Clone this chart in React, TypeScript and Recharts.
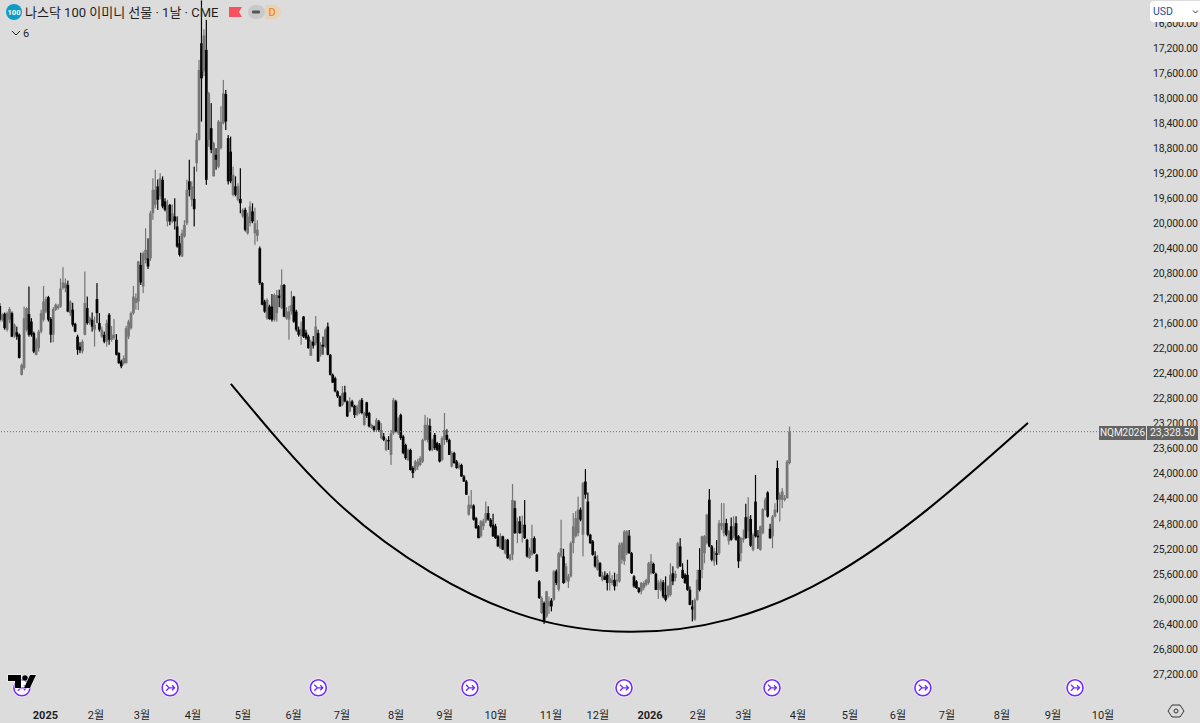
import { Bar, ComposedChart, Line, ReferenceDot, ReferenceLine, XAxis, YAxis } from "recharts";

// 나스닥 100 이미니 선물 (NQM2026), 1일봉, 가격축 반전. 봉 하나 = [open, high, low, close]

const barsEarly2025 = [
  [21320,21570,21275,21540],[21540,21570,21435,21460],[21445,21700,21425,21675],[21700,21730,21410,21436],[21540,21595,21340,21370],
  [21435,21820,21410,21810],[21780,21830,21600,21620],[21740,21860,21650,21810],[21780,22160,21760,22150],[22420,22430,22240,22260],
  [22310,22340,21330,21515],[21700,21730,21340,21355],[21450,21810,21010,21780],[21570,21810,21515,21780],[21755,22075,21730,22050],
  [22100,22110,21830,21860],[21995,22050,21700,21730],[21730,21760,21380,21435],[21540,21570,21000,21250],[21410,21435,21170,21210],
  [21180,21570,21160,21540],[21530,21905,21500,21780],[21780,21900,21340,21370],[21380,21400,21280,21300],[21355,21380,21290,21320],
  [21330,21350,20880,21040],[21035,21060,20700,20945],[21035,21100,20880,20957],[20985,21420,20915,21410],[21435,21480,21230,21250],
  [21380,21650,21270,21620],[21605,21740,21590,21730],[21810,22100,21780,22020],[21970,22075,21900,22030],[22045,22080,21860,21890],
  [21780,21790,20770,21275],[21355,21620,21170,21595],[21570,21620,21490,21515],[21540,21730,21425,21650],[21700,21970,21490,21620],
  [21210,21595,20955,21435],[21595,21730,21435,21700],[21810,21830,21650,21700],[21780,21915,21730,21890],[21890,21970,21540,21595],
  [21460,21940,21435,21860],[21860,21890,21640,21780],[21835,21860,21530,21780],[21860,22110,21770,22100],[22075,22245,22060,22235],
  [22205,22315,22180,22285],[22235,22260,22110,22155],[22235,22240,21640,21675],[21810,21850,21540,21570],[21675,21700,21410,21435],
  [21435,21460,21000,21170],[21275,21380,21120,21195],[21250,21385,20600,20610],[20665,20985,20470,20945],[21010,21115,20450,20480],
  [20585,20640,20080,20425],[20560,20730,20240,20690],[20560,20600,19800,19840],
];

const barsPeak2025 = [
  [19840,19945,19280,19465],[19705,19760,19145,19465],[19410,19785,19300,19625],[19570,19620,19200,19280],[19305,19760,19250,19730],
  [19650,19810,19600,19785],[19970,20050,19625,19705],[19705,20030,19690,19970],[19970,20000,19700,19840],[19890,20100,19600,19970],
  [20050,20390,19890,20370],[20320,20530,20200,20505],[20530,20540,20100,20160],[20210,20230,19950,20025],[20000,20030,19305,19465],
  [19330,19570,18985,19465],[19625,19730,19330,19410],[19610,20050,19095,19775],[19040,19175,18560,18665],[18665,18680,17390,17550],
  [17125,18375,16440,17685],[17575,17650,16900,17000],[17230,19385,16750,19305],[18665,18780,17900,17925],[18480,18880,18080,18825],
  [19250,19250,18700,18720],[18905,19145,18800,18985],[19095,19120,18350,18375],[18800,18820,18130,18380],[18400,18420,17710,17925],
  [17935,18510,17870,18375],[18640,19380,18590,19330],[18855,19360,18615,19330],[19545,19570,19095,19225],[19410,19570,19250,19545],
  [19625,19650,19360,19410],[19610,19840,19120,19680],[19890,19915,19760,19785],[19785,20130,19750,20105],[20160,20180,19830,19890],
  [20000,20050,19650,19730],[19810,20000,19680,19970],[20160,20345,19750,20000],[20200,20290,19950,20100],
];

const barsSummer2025 = [
  [20400,20985,20370,20955],[20955,21310,20940,21300],[21250,21430,21220,21410],[21515,21540,21200,21225],[21330,21540,21300,21530],
  [21330,21570,21130,21540],[21540,21570,21120,21145],[21435,21570,21065,21145],[21155,21340,21060,21195],[21355,21370,20735,20985],
  [20985,21500,20970,21490],[21515,21540,21340,21410],[21540,21860,21320,21410],[21410,21460,21080,21305],[21170,21590,21160,21570],
  [21410,21730,21380,21700],[21700,21810,21650,21780],[21800,21941,21570,21690],[21490,21830,21480,21810],[21745,21860,21700,21835],
  [21810,22000,21780,21995],[22115,22120,21860,21890],[21890,22000,21800,21955],[21915,21950,21480,21650],[21755,22215,21700,22205],
  [22100,22130,21900,21940],[21940,22100,21810,21970],[21970,21990,21680,21700],[21650,22110,21585,22100],[22100,22430,22090,22420],
  [22420,22550,22400,22545],[22475,22700,22450,22685],[22685,22790,22670,22765],[22765,22930,22750,22925],[22900,22920,22600,22715],
  [22700,22860,22595,22845],[22845,23095,22830,23085],[23005,23020,22780,22845],[22845,22940,22820,22925],[22915,23110,22900,23060],
  [23060,23080,22900,22925],[23030,23050,22820,22845],[22820,23050,22790,23030],[23220,23235,23010,23030],[22860,23110,22850,23075],
  [23030,23260,23010,23245],[23270,23285,23200,23220],[23245,23330,23230,23300],[23300,23330,23110,23140],[23165,23330,23140,23300],
];

const barsAutumn2025 = [
  [23430,23450,23190,23300],[23405,23480,23350,23460],[23620,23640,23430,23460],[23460,23620,23400,23485],[23700,23860,23300,23355],
  [23355,23380,22790,22820],[22845,23340,22820,23325],[23355,23380,23090,23115],[23060,23460,23040,23430],[23405,23690,23380,23670],
  [23540,23775,23520,23750],[23780,23800,23600,23620],[23620,23950,23600,23940],[23910,24070,23880,23990],[23940,23960,23780,23805],
  [23885,23940,23760,23805],[23860,23880,23720,23750],[23805,23830,23440,23460],[23460,23480,23060,23220],[23460,23500,23100,23220],
  [23235,23640,23120,23620],[23620,23640,23440,23460],[23380,23620,23350,23590],[23510,23640,23490,23620],[23540,23820,23510,23805],
  [23780,23800,23400,23430],[23460,23540,23030,23300],[23380,23500,23290,23460],[23460,23700,23440,23700],[23885,23900,23640,23670],
  [23670,23840,23650,23830],[23805,23920,23780,23910],[23910,23930,23820,23860],[23860,24050,23840,24045],[24045,24130,24020,24125],
  [24125,24340,24100,24335],[24655,24670,24350,24495],[24550,24560,24260,24495],[24510,24750,24490,24735],[24710,24880,24690,24870],
  [24840,25030,24820,25030],[25000,25020,24740,24760],[24840,24900,24720,24760],[24760,24790,24445,24630],[24630,24750,24520,24735],
  [24735,24860,24710,24840],[24815,25010,24640,25000],[24840,25040,24800,25030],[25000,25170,24980,25160],[25190,25200,24950,25000],
  [25000,25220,24990,25215],[25270,25290,25040,25055],[25055,25360,25040,25350],[25375,25390,25280,25300],[25295,25380,24165,24420],
  [24550,24960,24430,24950],[24950,25110,24700,24760],[24760,24960,24680,24950],[24950,25100,24670,24815],[24815,25040,24420,25030],
  [25055,25340,25040,25320],[25350,25360,25180,25215],[25295,25310,24815,25030],[25030,25280,25000,25270],[25295,25570,25280,25560],
  [25720,26000,25700,25985],[26225,26240,25960,25985],[26065,26400,26040,26360],[26280,26300,25870,25880],[26120,26240,25960,26040],
  [26025,26200,25990,26120],[26015,26030,25540,25560],[25560,25780,25530,25745],[25850,25880,25250,25270],[25320,25340,24735,25190],
  [25320,25760,25200,25745],[25695,25740,25430,25480],[25720,25825,25600,25640],[25640,25660,25080,25110],[25110,25270,24630,24840],
  [25000,25020,24600,24710],[24950,25000,24365,24575],[24575,24760,24540,24735],[24975,25320,24130,24150],[24125,24400,23925,24335],
  [24445,25000,24300,24975],[24975,25120,24960,25110],
];

const barsWinter2026 = [
  [25080,25310,25060,25295],[25320,25500,25240,25480],[25535,25550,25300,25375],[25430,25650,25410,25640],[25695,25720,25570,25615],
  [25640,25700,25560,25695],[25615,25865,25590,25745],[25745,25865,25560,25667],[25745,25780,25620,25695],[25695,25865,25580,25800],
  [25720,25800,25600,25695],[25720,25740,25100,25135],[25375,25440,25090,25110],[25400,25460,24900,24925],[25270,25300,24900,24920],
  [24990,25280,24900,25270],[25270,25600,25250,25590],[25640,25820,25620,25800],[25720,25840,25700,25825],[25825,25910,25810,25890],
  [25880,25930,25730,25745],[25825,25860,25720,25745],[25775,25800,25680,25695],[25745,25770,25410,25430],[25590,25610,25285,25400],
  [25440,25600,25420,25590],[25600,25860,25580,25855],[25855,26000,25700,25745],[25855,25880,25680,25720],[25735,25990,25700,25960],
  [25935,26040,25640,26015],[25960,25990,25780,25800],[25935,25960,25430,25615],[25590,25780,25480,25720],[25667,25720,25550,25600],
  [25505,25520,25090,25110],[25160,25490,25030,25480],[25535,25680,25430,25665],[25615,25760,25590,25745],[25615,25870,25375,25855],
  [25855,26100,25800,26095],[26120,26360,26020,26170],[26330,26350,25990,26015],[26015,26030,25535,25695],[25535,25880,25190,25855],
  [25535,25670,24990,25000],[25270,25430,24980,25000],[25110,25130,24640,24655],[24415,25175,24245,25160],[25160,25400,25140,25375],
  [25400,25470,25190,25240],[25270,25455,25060,25295],[25270,25300,24740,24790],[24840,24900,24470,24790],[24950,25000,24470,24790],
  [24790,25000,24720,24975],[25080,25135,24900,24920],[24840,25070,24700,25055],[25000,25030,24680,24840],[24790,25070,24680,25055],
  [25000,25505,24980,25400],[25270,25400,25010,25030],[25055,25100,24890,25030],[24695,25040,24480,25030],[24920,25030,24375,24685],
  [24725,25170,24660,25150],[25215,25240,24950,24975],[24445,25020,24020,25000],[24990,25200,24900,25015],[25215,25230,24830,24840],
  [24950,24970,24550,24565],[24575,24590,24380,24415],[24300,24700,24280,24685],[24880,25040,24800,25030],[25000,25190,24660,24685],
  [24685,24700,24470,24575],[23910,24620,23790,24415],[24415,24765,24300,24340],[24415,24550,24230,24285],[24415,24440,24340,24390],
  [24390,24400,23780,23805],[23830,23850,23245,23328.5],
];

// 손으로 그린 곡선: 봉 번호와 가격 (natural 곡선이라 같은 간격으로 읽음)
const arcBars = [95,136,177,218,259,300,341,382,423];
const arcPrices = [22566,24354,25568,26295,26526,26327,25664,24562,23188];

const priceTicks = [16800,17200,17600,18000,18400,18800,19200,19600,20000,20400,20800,21200,21600,22000,22400,22800,23200,23600,24000,24400,24800,25200,25600,26000,26400,26800,27200];
const monthBars = [18.7,39.5,58.4,79.4,100,120.8,140.7,163,183,204,226.7,246,267.5,287.2,306,328.4,349.8,369.5,389.7,412.3,433.3,453.9];
const monthLabels = ["2025","2월","3월","4월","5월","6월","7월","8월","9월","10월","11월","12월","2026","2월","3월","4월","5월","6월","7월","8월","9월","10월"];
const rollBars = [9,70,131,193.4,256.8,317.7,379.8,442.4];

const lastPrice = 23328.5;
const rollPrice = 27420;

const candles = [...barsEarly2025, ...barsPeak2025, ...barsSummer2025, ...barsAutumn2025, ...barsWinter2026];

const table: any[] = candles.map((b, i) => ({ bar: i, o: b[0], h: b[1], l: b[2], c: b[3] }));
arcBars.forEach((bar, i) => {
  if (table[bar]) table[bar].arc = arcPrices[i];
  else table.push({ bar, arc: arcPrices[i] });
});

const BG = "#dcdcdc";
const TEXT = "#1e1e1e";
const FONT = "Roboto, 'Noto Sans CJK KR', sans-serif";

function Candle(props: any) {
  const { x, y, width, height, payload } = props;
  if (payload.h == null || !height) return null;
  const top = Math.min(y, y + height);
  const ppu = Math.abs(height) / (payload.h - payload.l);
  const bodyTop = top + (Math.min(payload.o, payload.c) - payload.l) * ppu;
  const bodyH = Math.max(1, Math.abs(payload.c - payload.o) * ppu);
  const color = payload.c >= payload.o ? "#060606" : "#767676";
  const cx = x + width / 2;
  return (
    <g>
      <rect x={cx - 0.6} y={top} width={1.2} height={Math.abs(height)} fill={color} />
      <rect x={cx - 1.35} y={bodyTop} width={2.7} height={bodyH} fill={color} />
    </g>
  );
}

function MonthTick(props: any) {
  const { x, y, payload } = props;
  const label = monthLabels[monthBars.indexOf(payload.value)];
  const isYear = label.length === 4;
  return (
    <text x={x} y={y} textAnchor="middle" dominantBaseline="middle" fontFamily={FONT} fontSize={11} fontWeight={isYear ? 700 : 400} fill={TEXT}>
      {label}
    </text>
  );
}

function RollIcon(props: any) {
  const { cx, cy } = props;
  return (
    <g fill="none">
      <circle cx={cx} cy={cy} r={9.5} fill="#fff" fillOpacity={0.75} />
      <circle cx={cx} cy={cy} r={8} fill="#fff" stroke="#7329ff" strokeWidth={1.6} />
      <path d={`M${cx - 4} ${cy - 3}l3 3l-3 3M${cx - 1} ${cy}h5.5M${cx + 2} ${cy - 2.5}l2.5 2.5l-2.5 2.5`} stroke="#7329ff" strokeWidth={1.3} />
    </g>
  );
}

export default function App() {
  return (
    <div style={{ position: "absolute", left: 0, top: 0, width: 1200, height: 723, background: BG, overflow: "hidden" }}>
      <ComposedChart width={1200} height={723} data={table} margin={{ top: 0, right: 0, bottom: 0, left: 0 }}>
        <XAxis
          dataKey="bar"
          type="number"
          domain={[0, 471.2]}
          allowDataOverflow
          ticks={monthBars}
          interval={0}
          height={26}
          axisLine={false}
          tickLine={false}
          tickMargin={13}
          tick={<MonthTick />}
        />
        <YAxis
          orientation="right"
          reversed
          domain={[16433, 27567]}
          allowDataOverflow
          ticks={priceTicks}
          interval={0}
          width={55}
          axisLine={false}
          tickLine={false}
          tickSize={0}
          tickMargin={8}
          tick={{ fontSize: 10.5, fontFamily: FONT, fill: TEXT, letterSpacing: -0.15 }}
          tickFormatter={(v: number) => v.toLocaleString("en-US", { minimumFractionDigits: 2 })}
        />
        <ReferenceLine y={lastPrice} stroke="#6e6e6e" strokeDasharray="1 2" />
        <Bar dataKey={(d: any) => (d.h == null ? null : [d.l, d.h])} barSize={2} shape={<Candle />} isAnimationActive={false} />
        <Line dataKey="arc" type="natural" connectNulls dot={false} stroke="#000" strokeWidth={2} isAnimationActive={false} />
        {rollBars.map((bar) => (
          <ReferenceDot key={bar} x={bar} y={rollPrice} ifOverflow="visible" shape={<RollIcon />} />
        ))}
      </ComposedChart>

      {/* 제목 줄 */}
      <svg width={20} height={20} style={{ position: "absolute", left: 5, top: 2 }}>
        <circle cx={9} cy={10} r={8} fill="#0f9cc4" />
        <text x={9} y={13} textAnchor="middle" fontFamily={FONT} fontSize={7.5} fontWeight={700} fill="#fff">100</text>
      </svg>
      <div style={{ position: "absolute", left: 25, top: 3, fontFamily: FONT, fontSize: 13, lineHeight: "19px", color: TEXT, whiteSpace: "nowrap", textShadow: `0 0 2px ${BG}` }}>
        나스닥 100 이미니 선물 · 1날 · CME
      </div>
      <svg width={60} height={20} style={{ position: "absolute", left: 226, top: 2 }}>
        <path d="M3 5h13l-3 5l3 5H3z" fill="#f7525f" />
        <rect x={22} y={3} width={17} height={14} rx={7} fill="#c9c9c9" />
        <rect x={26} y={8.5} width={8} height={3} rx={1} fill="#555" />
        <path d="M39 3h9a7 7 0 0 1 0 14h-9z" fill="#e6d4b8" />
        <text x={46} y={14} textAnchor="middle" fontFamily={FONT} fontSize={11} fontWeight={500} fill="#f7890f">D</text>
      </svg>
      <svg width={14} height={10} style={{ position: "absolute", left: 10, top: 28 }}>
        <path d="M2 3l4 4l4-4" fill="none" stroke="#222" strokeWidth={1} />
      </svg>
      <div style={{ position: "absolute", left: 23, top: 26, fontFamily: FONT, fontSize: 11, lineHeight: "15px", color: TEXT }}>6</div>

      {/* 통화 버튼 */}
      <div style={{ position: "absolute", left: 1150, top: 1, width: 50, height: 21, background: "#fff", borderRadius: "4px 0 0 4px" }}>
        <span style={{ position: "absolute", left: 3, top: 3, fontFamily: FONT, fontSize: 10.5, lineHeight: "15px", color: "#1f4d94" }}>USD</span>
        <svg width={8} height={6} style={{ position: "absolute", left: 42, top: 8 }}>
          <path d="M1 1.5l2.5 2.5l2.5-2.5" fill="none" stroke="#333" strokeWidth={1} />
        </svg>
      </div>

      {/* 현재가 라벨 */}
      <div style={{ position: "absolute", left: 1099, top: 426, width: 47, height: 14, background: "#636363", color: "#f2f2f2", fontFamily: FONT, fontSize: 10, lineHeight: "14px", textAlign: "center" }}>
        NQM2026
      </div>
      <div style={{ position: "absolute", left: 1147, top: 426, width: 51, height: 14, background: "#636363", color: "#f2f2f2", fontFamily: FONT, fontSize: 10.5, lineHeight: "14px", letterSpacing: -0.15, textAlign: "center" }}>
        23,328.50
      </div>

      {/* 로고와 설정 아이콘 */}
      <svg width={40} height={24} style={{ position: "absolute", left: 4, top: 670 }}>
        <g fill="#000" stroke="#fff" strokeWidth={1} paintOrder="stroke">
          <path d="M4 5h13v13h-6v-7H4z" />
          <circle cx={21} cy={8} r={2.8} />
          <path d="M26 5h6l-6 13h-6z" />
        </g>
      </svg>
      <svg width={20} height={20} style={{ position: "absolute", left: 1166, top: 701 }}>
        <path d="M6 4h8l4 6l-4 6H6l-4-6z" fill="none" stroke="#333" strokeWidth={1} />
        <circle cx={10} cy={10} r={2} fill="none" stroke="#333" strokeWidth={1} />
      </svg>
    </div>
  );
}
